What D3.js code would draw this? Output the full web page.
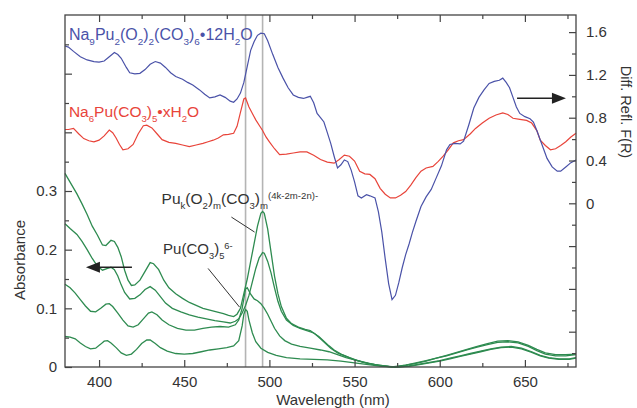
<!DOCTYPE html>
<html>
<head>
<meta charset="utf-8">
<script src="https://cdn.jsdelivr.net/npm/d3@7"></script>
<style>
  body { margin: 0; background: #fff; }
  svg text { font-family: "Liberation Sans", Arial, Helvetica, sans-serif; fill: #333; }
</style>
</head>
<body>
<div id="chart"></div>
<script>
// reflectance spectra (right axis, F(R))
var peroxoSolid = [[380,1.47],[382,1.46],[385,1.42],[389,1.37],[393,1.34],[397,1.325],[400,1.32],[403,1.33],[406,1.37],[409,1.41],[411,1.39],[413,1.355],[416,1.27],[418,1.22],[421,1.21],[424,1.215],[427,1.25],[430,1.3],[433,1.325],[436,1.31],[439,1.27],[442,1.22],[445,1.185],[449,1.16],[452,1.13],[455,1.105],[459,1.06],[462,1.02],[465,0.985],[468,0.995],[471,1.013],[474,0.99],[477,0.955],[479,0.945],[481,0.975],[483,1.03],[485,1.13],[487,1.28],[489,1.43],[491,1.51],[493,1.57],[495,1.59],[497,1.585],[499,1.52],[502,1.39],[505,1.27],[508,1.17],[511,1.08],[514,1.013],[517,0.99],[520,0.98],[522,0.99],[524,1.0],[526,0.94],[528,0.84],[530,0.8],[532,0.76],[534,0.66],[536,0.56],[538,0.44],[540,0.33],[542,0.36],[544,0.405],[546,0.39],[548,0.31],[550,0.2],[552,0.07],[554,0.05],[557,0.08],[559,0.07],[562,0.05],[564,-0.08],[566,-0.27],[568,-0.52],[570,-0.75],[572,-0.9],[574,-0.86],[576,-0.74],[578,-0.6],[580,-0.48],[582,-0.38],[584,-0.27],[586,-0.17],[589,-0.03],[592,0.06],[595,0.13],[598,0.24],[601,0.35],[604,0.5],[606,0.55],[609,0.56],[612,0.555],[614,0.58],[617,0.73],[620,0.89],[623,0.99],[626,1.06],[629,1.12],[632,1.14],[635,1.15],[637,1.17],[639,1.13],[641,1.08],[643,0.99],[645,0.9],[647,0.84],[650,0.81],[653,0.79],[655,0.76],[657,0.68],[660,0.55],[663,0.42],[666,0.34],[669,0.3],[671,0.3],[674,0.34],[677,0.38],[680,0.405]];
var carbSolid = [[380,0.69],[382,0.69],[385,0.7],[388,0.65],[391,0.605],[394,0.585],[397,0.575],[400,0.59],[403,0.63],[406,0.685],[408,0.66],[410,0.61],[412,0.55],[414,0.5],[417,0.51],[420,0.55],[423,0.65],[426,0.725],[428,0.73],[431,0.705],[434,0.65],[437,0.595],[441,0.57],[445,0.56],[449,0.545],[453,0.53],[457,0.545],[461,0.56],[464,0.575],[467,0.59],[470,0.61],[473,0.64],[476,0.645],[479,0.655],[481,0.72],[483,0.85],[485,0.975],[486,0.985],[488,0.9],[490,0.84],[492,0.78],[494,0.73],[496,0.68],[498,0.62],[500,0.575],[503,0.51],[506,0.455],[510,0.46],[514,0.47],[518,0.48],[522,0.48],[526,0.45],[530,0.41],[534,0.385],[538,0.375],[541,0.41],[544,0.45],[547,0.44],[550,0.395],[553,0.3],[556,0.275],[559,0.27],[562,0.23],[565,0.14],[568,0.085],[571,0.05],[574,0.05],[577,0.075],[580,0.11],[583,0.17],[586,0.24],[589,0.3],[592,0.33],[596,0.345],[599,0.39],[602,0.44],[605,0.5],[608,0.565],[611,0.585],[614,0.595],[618,0.65],[621,0.7],[625,0.75],[629,0.795],[633,0.825],[637,0.845],[640,0.83],[643,0.795],[647,0.785],[651,0.775],[654,0.75],[657,0.68],[659,0.59],[662,0.54],[665,0.5],[668,0.51],[671,0.54],[674,0.575],[677,0.62],[680,0.655]];

// solution absorbance spectra (left axis)
var abs1 = [[380,0.33],[381,0.325],[384,0.31],[387,0.295],[390,0.278],[393,0.26],[396,0.24],[399,0.225],[402,0.208],[404,0.207],[407,0.216],[409,0.214],[411,0.204],[413,0.188],[415,0.165],[417,0.148],[419,0.139],[421,0.14],[424,0.148],[427,0.163],[430,0.178],[432,0.176],[435,0.166],[438,0.148],[441,0.135],[445,0.125],[449,0.117],[453,0.11],[457,0.105],[461,0.1],[465,0.097],[469,0.094],[473,0.091],[476,0.088],[479,0.086],[481,0.09],[483,0.1],[485,0.125],[487,0.15],[489,0.18],[491,0.21],[493,0.24],[495,0.262],[496,0.265],[497,0.262],[499,0.235],[501,0.195],[503,0.155],[505,0.125],[507,0.103],[510,0.083],[513,0.074],[517,0.068],[521,0.064],[524,0.062],[527,0.056],[530,0.048],[533,0.04],[536,0.032],[540,0.024],[545,0.018],[550,0.012],[555,0.008],[560,0.005],[566,0.002],[574,0],[580,0.003],[586,0.007],[592,0.011],[598,0.015],[604,0.02],[610,0.025],[616,0.03],[622,0.035],[628,0.04],[634,0.044],[640,0.045],[646,0.043],[652,0.037],[657,0.03],[662,0.024],[668,0.021],[674,0.021],[680,0.022]];
var abs2 = [[380,0.244],[383,0.236],[387,0.226],[390,0.214],[393,0.2],[396,0.185],[399,0.172],[402,0.165],[405,0.168],[407,0.17],[409,0.166],[411,0.155],[413,0.14],[415,0.127],[418,0.116],[421,0.117],[424,0.123],[427,0.132],[430,0.137],[433,0.131],[436,0.12],[439,0.109],[443,0.1],[448,0.094],[453,0.089],[458,0.085],[463,0.082],[468,0.079],[473,0.077],[477,0.075],[480,0.078],[482,0.082],[484,0.092],[486,0.105],[488,0.122],[490,0.145],[492,0.168],[494,0.186],[496,0.195],[497,0.194],[499,0.18],[501,0.16],[503,0.135],[505,0.112],[507,0.095],[510,0.08],[514,0.071],[518,0.066],[522,0.062],[526,0.058],[529,0.052],[532,0.044],[535,0.036],[538,0.029],[542,0.022],[547,0.016],[552,0.011],[558,0.006],[564,0.003],[572,0],[580,0.003],[586,0.006],[592,0.01],[598,0.015],[604,0.019],[610,0.024],[616,0.029],[622,0.034],[628,0.038],[634,0.042],[640,0.043],[646,0.041],[652,0.035],[657,0.028],[662,0.022],[668,0.019],[674,0.019],[680,0.021]];
var abs3 = [[380,0.141],[383,0.135],[386,0.126],[389,0.115],[392,0.104],[395,0.095],[398,0.094],[401,0.1],[404,0.107],[406,0.108],[408,0.103],[411,0.092],[414,0.08],[417,0.07],[420,0.068],[423,0.072],[426,0.082],[429,0.092],[431,0.094],[434,0.089],[437,0.08],[441,0.072],[446,0.066],[451,0.063],[456,0.063],[461,0.066],[466,0.068],[471,0.069],[476,0.068],[480,0.072],[482,0.08],[484,0.1],[486,0.133],[487,0.135],[489,0.124],[491,0.116],[493,0.113],[495,0.108],[497,0.1],[499,0.09],[501,0.078],[503,0.066],[506,0.053],[509,0.045],[513,0.039],[518,0.035],[524,0.032],[530,0.029],[535,0.026],[540,0.021],[545,0.016],[550,0.012],[556,0.008],[562,0.004],[570,0.001],[576,0],[582,0.002],[588,0.005],[594,0.008],[600,0.011],[606,0.015],[612,0.019],[618,0.023],[624,0.027],[630,0.031],[636,0.034],[642,0.035],[648,0.032],[654,0.026],[659,0.02],[664,0.016],[670,0.014],[676,0.014],[680,0.016]];
var abs4 = [[380,0.052],[383,0.051],[386,0.048],[389,0.041],[392,0.035],[395,0.031],[398,0.032],[401,0.039],[403,0.044],[405,0.045],[407,0.041],[410,0.033],[413,0.024],[416,0.02],[419,0.022],[422,0.03],[425,0.04],[428,0.046],[430,0.046],[433,0.04],[436,0.033],[440,0.027],[445,0.023],[450,0.022],[455,0.023],[460,0.026],[465,0.029],[470,0.031],[475,0.033],[479,0.036],[482,0.045],[484,0.07],[485,0.09],[486,0.098],[487,0.095],[488,0.08],[490,0.058],[492,0.043],[495,0.032],[499,0.025],[504,0.02],[510,0.016],[518,0.014],[526,0.013],[534,0.012],[542,0.01],[550,0.007],[558,0.004],[566,0.001],[574,0],[582,0.001],[588,0.004],[594,0.007],[600,0.01],[606,0.014],[612,0.018],[618,0.022],[624,0.026],[630,0.03],[636,0.033],[642,0.034],[648,0.031],[654,0.025],[659,0.019],[664,0.015],[670,0.013],[676,0.013],[680,0.015]];

var markerLines = [486, 496];
var xMajor = [400, 450, 500, 550, 600, 650];
var xMinor = [425, 475, 525, 575, 625, 675];
var leftMajor = [0, 0.1, 0.2, 0.3, 0.4, 0.5];
var leftMinor = [0.05, 0.15, 0.25, 0.35, 0.45, 0.55];
var leftLabels = ["0", "0.1", "0.2", "0.3", "", ""];
var rightMajor = [-1.2, -0.8, -0.4, 0, 0.4, 0.8, 1.2, 1.6];
var rightMinor = [-1.4, -1.0, -0.6, -0.2, 0.2, 0.6, 1.0, 1.4];
var rightLabels = ["", "", "", "0", "0.4", "0.8", "1.2", "1.6"];

var width = 637, height = 408;
var margin = {top: 15, right: 61, bottom: 41, left: 65};
var x = d3.scaleLinear().domain([380, 680]).range([margin.left, width - margin.right]);
var yL = d3.scaleLinear().domain([0, 0.6]).range([height - margin.bottom, margin.top]);
var yR = d3.scaleLinear().domain([-1.53, 1.76]).range([height - margin.bottom, margin.top]);

var svg = d3.select('#chart').append('svg').attr('width', width).attr('height', height);

// grey marker lines
svg.selectAll('.mark').data(markerLines).enter().append('line')
    .attr('x1', function(d) { return x(d); }).attr('x2', function(d) { return x(d); })
    .attr('y1', yL(0)).attr('y2', yL(0.6))
    .attr('stroke', '#b4b4b4').attr('stroke-width', 1.6);

var lineL = d3.line().x(function(d) { return x(d[0]); }).y(function(d) { return yL(d[1]); });
var lineR = d3.line().x(function(d) { return x(d[0]); }).y(function(d) { return yR(d[1]); });

[abs4, abs3, abs2, abs1].forEach(function(s) {
    svg.append('path').attr('d', lineL(s)).attr('fill', 'none').attr('stroke', '#2e8b50').attr('stroke-width', 1.3);
});
svg.append('path').attr('d', lineR(carbSolid)).attr('fill', 'none').attr('stroke', '#e8443a').attr('stroke-width', 1.2);
svg.append('path').attr('d', lineR(peroxoSolid)).attr('fill', 'none').attr('stroke', '#4a52a8').attr('stroke-width', 1.2);

// axes with inward ticks
function styleAxis(g) {
    g.select('.domain').remove();
    g.selectAll('.tick line').attr('stroke', '#444').attr('stroke-width', 1.2);
    g.selectAll('.tick text').style('font-size', '15px').attr('fill', '#333');
}
var yb = height - margin.bottom;
svg.append('g').attr('transform', 'translate(0,' + yb + ')')
    .call(d3.axisBottom(x).tickValues(xMajor).tickSize(-7).tickPadding(9).tickFormat(d3.format('d'))).call(styleAxis);
svg.append('g').attr('transform', 'translate(0,' + yb + ')')
    .call(d3.axisBottom(x).tickValues(xMinor).tickSize(-4).tickFormat('')).call(styleAxis);
svg.append('g').attr('transform', 'translate(0,' + margin.top + ')')
    .call(d3.axisTop(x).tickValues(xMajor).tickSize(-7).tickFormat('')).call(styleAxis);
svg.append('g').attr('transform', 'translate(0,' + margin.top + ')')
    .call(d3.axisTop(x).tickValues(xMinor).tickSize(-4).tickFormat('')).call(styleAxis);
svg.append('g').attr('transform', 'translate(' + margin.left + ',0)')
    .call(d3.axisLeft(yL).tickValues(leftMajor).tickSize(-7).tickPadding(8).tickFormat(function(d, i) { return leftLabels[i]; })).call(styleAxis);
svg.append('g').attr('transform', 'translate(' + margin.left + ',0)')
    .call(d3.axisLeft(yL).tickValues(leftMinor).tickSize(-4).tickFormat('')).call(styleAxis);
var xr = width - margin.right;
svg.append('g').attr('transform', 'translate(' + xr + ',0)')
    .call(d3.axisRight(yR).tickValues(rightMajor).tickSize(-7).tickPadding(10).tickFormat(function(d, i) { return rightLabels[i]; })).call(styleAxis);
svg.append('g').attr('transform', 'translate(' + xr + ',0)')
    .call(d3.axisRight(yR).tickValues(rightMinor).tickSize(-4).tickFormat('')).call(styleAxis);

svg.append('rect').attr('x', margin.left).attr('y', margin.top)
    .attr('width', xr - margin.left).attr('height', yb - margin.top)
    .attr('fill', 'none').attr('stroke', '#444').attr('stroke-width', 1.3);

// axis titles
svg.append('text').attr('x', 333).attr('y', 405).attr('text-anchor', 'middle').style('font-size', '15px').text('Wavelength (nm)');
svg.append('text').attr('transform', 'translate(25,260) rotate(-90)').attr('text-anchor', 'middle').style('font-size', '15px').text('Absorbance');
svg.append('text').attr('transform', 'translate(621,112) rotate(90)').attr('text-anchor', 'middle').style('font-size', '14.5px').text('Diff. Refl. F(R)');

// formula labels with sub/superscripts
function richText(px, py, parts, size, color) {
    var t = svg.append('text').attr('x', px).attr('y', py).style('font-size', size + 'px').attr('fill', color).style('fill', color);
    var shift = 0;
    parts.forEach(function(p) {
        var target = p[1] === 'sub' ? size * 0.32 : (p[1] === 'sup' ? -size * 0.3 : 0);
        var ts = t.append('tspan').attr('dy', target - shift).text(p[0]);
        if (p[1]) ts.style('font-size', (size * 0.62) + 'px');
        shift = target;
    });
    return t;
}
richText(x(382.3), yR(1.53), [['Na'], ['9', 'sub'], ['Pu'], ['2', 'sub'], ['(O'], ['2', 'sub'], [')'], ['2', 'sub'], ['(CO'], ['3', 'sub'], [')'], ['6', 'sub'], ['\u202212H'], ['2', 'sub'], ['O']], 16, '#4a52a8');
richText(x(382.3), yR(0.81), [['Na'], ['6', 'sub'], ['Pu(CO'], ['3', 'sub'], [')'], ['5', 'sub'], ['\u2022xH'], ['2', 'sub'], ['O']], 15.5, '#e8443a');
richText(x(436.7), yL(0.2785), [['Pu'], ['k', 'sub'], ['(O'], ['2', 'sub'], [')'], ['m', 'sub'], ['(CO'], ['3', 'sub'], [')'], ['m', 'sub'], ['(4k-2m-2n)-', 'sup']], 15.5, '#333');
richText(x(437.6), yL(0.193), [['Pu(CO'], ['3', 'sub'], [')'], ['5', 'sub'], ['6-', 'sup']], 15, '#333');

// leader lines
var leaders = [[477.7, 0.2555, 491.3, 0.23], [464, 0.168, 482.5, 0.102]];
leaders.forEach(function(l) {
    svg.append('line').attr('x1', x(l[0])).attr('y1', yL(l[1])).attr('x2', x(l[2])).attr('y2', yL(l[3]))
        .attr('stroke', '#333').attr('stroke-width', 1);
});

// arrows pointing to the axis each set belongs to
function arrow(x1, x2, yy) {
    var dir = x2 < x1 ? 1 : -1;
    svg.append('line').attr('x1', x1).attr('x2', x2 + dir * 10).attr('y1', yy).attr('y2', yy).attr('stroke', '#222').attr('stroke-width', 1.4);
    svg.append('path').attr('d', 'M' + x2 + ',' + yy + 'L' + (x2 + dir * 14) + ',' + (yy - 5.5) + 'L' + (x2 + dir * 14) + ',' + (yy + 5.5) + 'Z').attr('fill', '#222');
}
arrow(x(419.3), x(392.3), yL(0.17));
arrow(x(645.4), x(674.1), yR(0.982));
</script>
</body>
</html>
